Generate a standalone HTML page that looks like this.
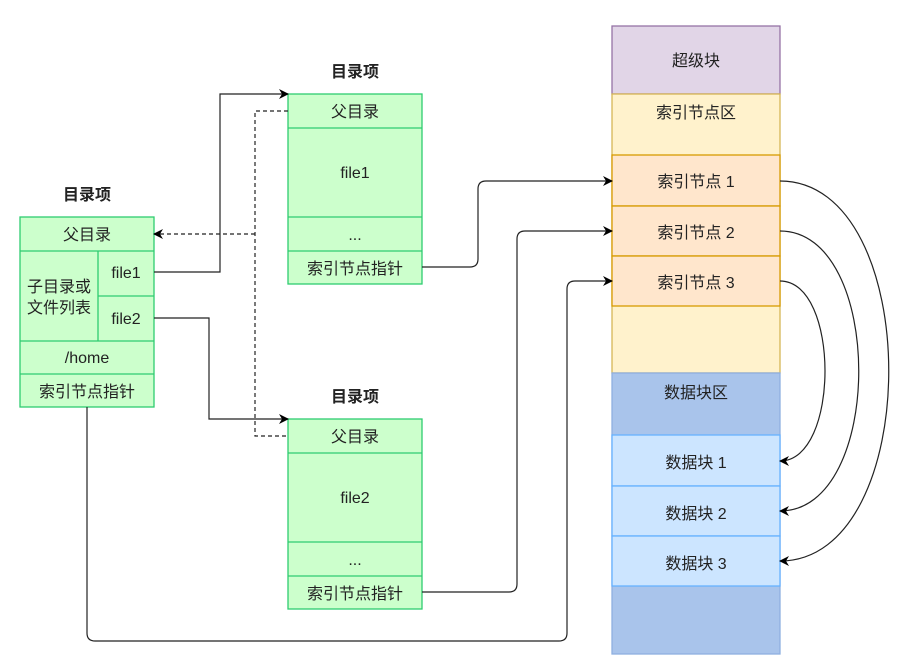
<!DOCTYPE html>
<html><head><meta charset="utf-8"><style>
html,body{margin:0;padding:0;background:#fff;}
text{font-family:"Liberation Sans","Noto Sans CJK SC",sans-serif;font-size:16px;fill:#222;}
.b{font-weight:bold;}
</style></head><body>
<svg width="905" height="666" viewBox="0 0 905 666" xmlns="http://www.w3.org/2000/svg">
<defs>
<marker id="a" markerWidth="10" markerHeight="10" refX="9" refY="5" orient="auto" markerUnits="userSpaceOnUse">
<path d="M0,0 L10,5 L0,10 L3,5 Z" fill="#000"/></marker>
</defs>
<g stroke="#2ecc71" stroke-width="1.3" fill="#ccffcc">
<rect x="20" y="217" width="134" height="190"/>
<line x1="20" y1="251" x2="154" y2="251"/><line x1="20" y1="341" x2="154" y2="341"/><line x1="20" y1="374" x2="154" y2="374"/>
<line x1="98" y1="251" x2="98" y2="341"/><line x1="98" y1="296" x2="154" y2="296"/>
<rect x="288" y="94" width="134" height="190"/>
<line x1="288" y1="128" x2="422" y2="128"/><line x1="288" y1="217" x2="422" y2="217"/><line x1="288" y1="251" x2="422" y2="251"/>
<rect x="288" y="419" width="134" height="190"/>
<line x1="288" y1="453" x2="422" y2="453"/><line x1="288" y1="542" x2="422" y2="542"/><line x1="288" y1="576" x2="422" y2="576"/>
</g>
<g stroke-width="1.3">
<rect x="612" y="26" width="168" height="68" fill="#e1d5e7" stroke="#9673a6"/>
<rect x="612" y="94" width="168" height="279" fill="#fff2cc" stroke="#d6b656"/>
<rect x="612" y="155" width="168" height="51" fill="#ffe6cc" stroke="#d79b00"/>
<rect x="612" y="206" width="168" height="50" fill="#ffe6cc" stroke="#d79b00"/>
<rect x="612" y="256" width="168" height="50" fill="#ffe6cc" stroke="#d79b00"/>
<rect x="612" y="373" width="168" height="281" fill="#a9c4eb" stroke="#8fb0e0"/>
<rect x="612" y="435" width="168" height="51" fill="#cce5ff" stroke="#66b2ff"/>
<rect x="612" y="486" width="168" height="50" fill="#cce5ff" stroke="#66b2ff"/>
<rect x="612" y="536" width="168" height="50" fill="#cce5ff" stroke="#66b2ff"/>
</g>
<g text-anchor="middle">
<text x="87" y="200" class="b">目录项</text>
<text x="355" y="77" class="b">目录项</text>
<text x="355" y="402" class="b">目录项</text>
<text x="87" y="240">父目录</text>
<text x="59" y="292">子目录或</text><text x="59" y="313">文件列表</text>
<text x="126" y="278">file1</text><text x="126" y="324">file2</text>
<text x="87" y="363">/home</text><text x="87" y="397">索引节点指针</text>
<text x="355" y="117">父目录</text><text x="355" y="178">file1</text><text x="355" y="240">...</text><text x="355" y="274">索引节点指针</text>
<text x="355" y="442">父目录</text><text x="355" y="503">file2</text><text x="355" y="565">...</text><text x="355" y="599">索引节点指针</text>
<text x="696" y="66">超级块</text>
<text x="696" y="118">索引节点区</text>
<text x="696" y="187">索引节点 1</text><text x="696" y="238">索引节点 2</text><text x="696" y="288">索引节点 3</text>
<text x="696" y="398">数据块区</text>
<text x="696" y="468">数据块 1</text><text x="696" y="519">数据块 2</text><text x="696" y="569">数据块 3</text>
</g>
<g fill="none" stroke="#222" stroke-width="1.2">
<path d="M154,272 H220 V94 H288" marker-end="url(#a)"/>
<path d="M154,318 H209 V419 H288" marker-end="url(#a)"/>
<path d="M288,111 H255 V436 H288" stroke-dasharray="4,3"/>
<path d="M255,234 H154" stroke-dasharray="4,3" marker-end="url(#a)"/>
<path d="M422,267 H470 Q478,267 478,259 V189 Q478,181 486,181 H612" marker-end="url(#a)"/>
<path d="M422,592 H509 Q517,592 517,584 V239 Q517,231 525,231 H612" marker-end="url(#a)"/>
<path d="M87,407 V633 Q87,641 95,641 H559 Q567,641 567,633 V289 Q567,281 575,281 H612" marker-end="url(#a)"/>
<path d="M780,181 C925,181 925,561 780,561" marker-end="url(#a)"/>
<path d="M780,231 C885,231 885,511 780,511" marker-end="url(#a)"/>
<path d="M780,281 C840,281 840,461 780,461" marker-end="url(#a)"/>
</g>
</svg>
</body></html>
